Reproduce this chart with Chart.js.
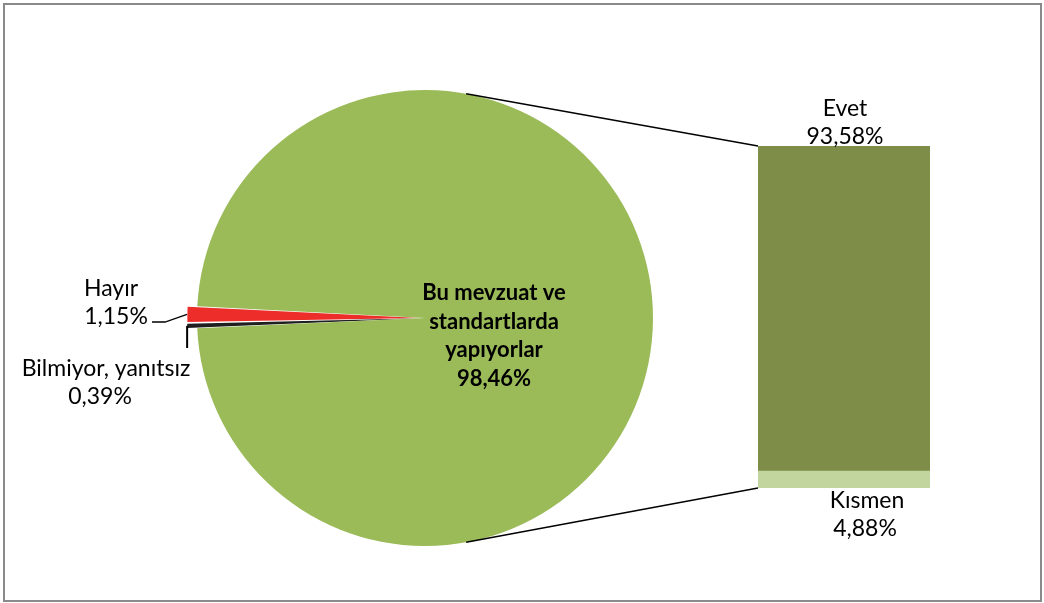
<!DOCTYPE html>
<html>
<head>
<meta charset="utf-8">
<script src="https://cdn.jsdelivr.net/npm/chart.js@4.4.0/dist/chart.umd.min.js"></script>
<style>
  body { margin: 0; background: #fff; }
  #wrap { position: relative; width: 1044px; height: 603px; }
  #frame { position: absolute; left: 3px; top: 3px; width: 1035px; height: 595px; border: 2px solid #8a8a8a; }
  canvas { position: absolute; left: 0; top: 0; }
</style>
</head>
<body>
<div id="wrap">
  <div id="frame"></div>
  <canvas id="pasta" width="1044" height="603"></canvas>
  <canvas id="cubuk" width="1044" height="603"></canvas>
</div>
<script>
// pasta dilimleri (saat yönünde: Bilmiyor, Hayır, ana dilim)
const pasta_etiketler = ["Bilmiyor, yanıtsız", "Hayır", "Bu mevzuat ve standartlarda yapıyorlar"];
const pasta_degerler = [0.39, 1.15, 98.46];
const pasta_renkler = ["#1f1f1f", "#ec2d2a", "#9bbb59"];
const pasta_yazilar = ["0,39%", "1,15%", "98,46%"];

// çubuk (ana dilimin kırılımı)
const cubuk_etiketler = ["Kısmen", "Evet"];
const cubuk_degerler = [4.88, 93.58];
const cubuk_renkler = ["#c3d59e", "#7e8e49"];
const cubuk_yazilar = ["4,88%", "93,58%"];

const yazi = "Lato, 'Open Sans', sans-serif";
const patlama = 20; // chart.js ofsetin yarısı kadar kaydırıyor

const ctx1 = document.getElementById("pasta");
let pasta = new Chart(ctx1, {
  type: "pie",
  data: {
    labels: pasta_etiketler,
    datasets: [{
      data: pasta_degerler,
      backgroundColor: pasta_renkler,
      borderWidth: 0,
      offset: [patlama, patlama, 0]
    }]
  },
  options: {
    responsive: false,
    animation: false,
    events: [],
    rotation: 267.4,
    radius: 228,
    layout: { padding: { left: 185, right: 379, top: 78, bottom: 45 } },
    plugins: { legend: { display: false }, tooltip: { enabled: false } }
  }
});

function kenar(arc, ek) {
  const a = (arc.startAngle + arc.endAngle) / 2;
  const r = arc.outerRadius + ek;
  return { x: arc.x + Math.cos(a) * r, y: arc.y + Math.sin(a) * r };
}

const cizgiler = {
  id: "cizgiler",
  afterDraw(chart) {
    const c = chart.ctx;
    const pm = pasta.getDatasetMeta(0);
    const ana = pm.data[2];
    const kismen = chart.getDatasetMeta(0).data[0];
    const evet = chart.getDatasetMeta(1).data[0];
    const sol = evet.x - evet.width / 2;

    c.save();
    c.strokeStyle = "#000";
    c.lineWidth = 1.3;
    // bağlantı çizgileri
    const aci = 10.4 * Math.PI / 180;
    c.beginPath();
    c.moveTo(ana.x + Math.sin(aci) * ana.outerRadius, ana.y - Math.cos(aci) * ana.outerRadius);
    c.lineTo(sol, evet.y);
    c.moveTo(ana.x + Math.sin(aci) * ana.outerRadius, ana.y + Math.cos(aci) * ana.outerRadius);
    c.lineTo(sol, kismen.base);
    c.stroke();

    // Hayır kılavuz çizgisi
    const p1 = kenar(pm.data[1], patlama / 2);
    c.beginPath();
    c.moveTo(p1.x, p1.y);
    c.lineTo(165, 322);
    c.lineTo(152, 322);
    c.stroke();
    // Bilmiyor kılavuz çizgisi
    const p0 = kenar(pm.data[0], patlama / 2);
    c.lineWidth = 2;
    c.beginPath();
    c.moveTo(p0.x, p0.y);
    c.lineTo(p0.x, 348);
    c.stroke();

    c.fillStyle = "#000";
    c.textAlign = "center";
    c.textBaseline = "middle";
    c.font = "23px " + yazi;
    c.fillText("Hayır", 111, 289);
    c.fillText(pasta_yazilar[1], 116, 317);
    c.fillText(pasta_etiketler[0], 106, 369);
    c.fillText(pasta_yazilar[0], 100, 397);

    c.fillText(cubuk_etiketler[1], evet.x + 1, 109);
    c.fillText(cubuk_yazilar[1], evet.x + 1, 137);
    c.fillText(cubuk_etiketler[0], kismen.x + 23, kismen.base + 13);
    c.fillText(cubuk_yazilar[0], kismen.x + 21, kismen.base + 41);

    c.font = "bold 22px " + yazi;
    const sat = ["Bu mevzuat ve", "standartlarda", "yapıyorlar", pasta_yazilar[2]];
    for (let i = 0; i < sat.length; i++) {
      c.fillText(sat[i], ana.x + 69, ana.y - 25 + i * 28.5);
    }
    c.restore();
  }
};

const toplam = cubuk_degerler.reduce((a, b) => a + b, 0);
const ctx2 = document.getElementById("cubuk");
let cubuk = new Chart(ctx2, {
  type: "bar",
  data: {
    labels: ["x"],
    datasets: [
      { label: cubuk_etiketler[0], data: [cubuk_degerler[0]], backgroundColor: cubuk_renkler[0], barPercentage: 1, categoryPercentage: 1 },
      { label: cubuk_etiketler[1], data: [cubuk_degerler[1]], backgroundColor: cubuk_renkler[1], barPercentage: 1, categoryPercentage: 1 }
    ]
  },
  options: {
    responsive: false,
    animation: false,
    events: [],
    layout: { padding: { left: 758, right: 114, top: 146, bottom: 115 } },
    scales: {
      x: { stacked: true, display: false },
      y: { stacked: true, display: false, min: 0, max: toplam }
    },
    plugins: { legend: { display: false }, tooltip: { enabled: false } }
  },
  plugins: [cizgiler]
});
</script>
</body>
</html>
